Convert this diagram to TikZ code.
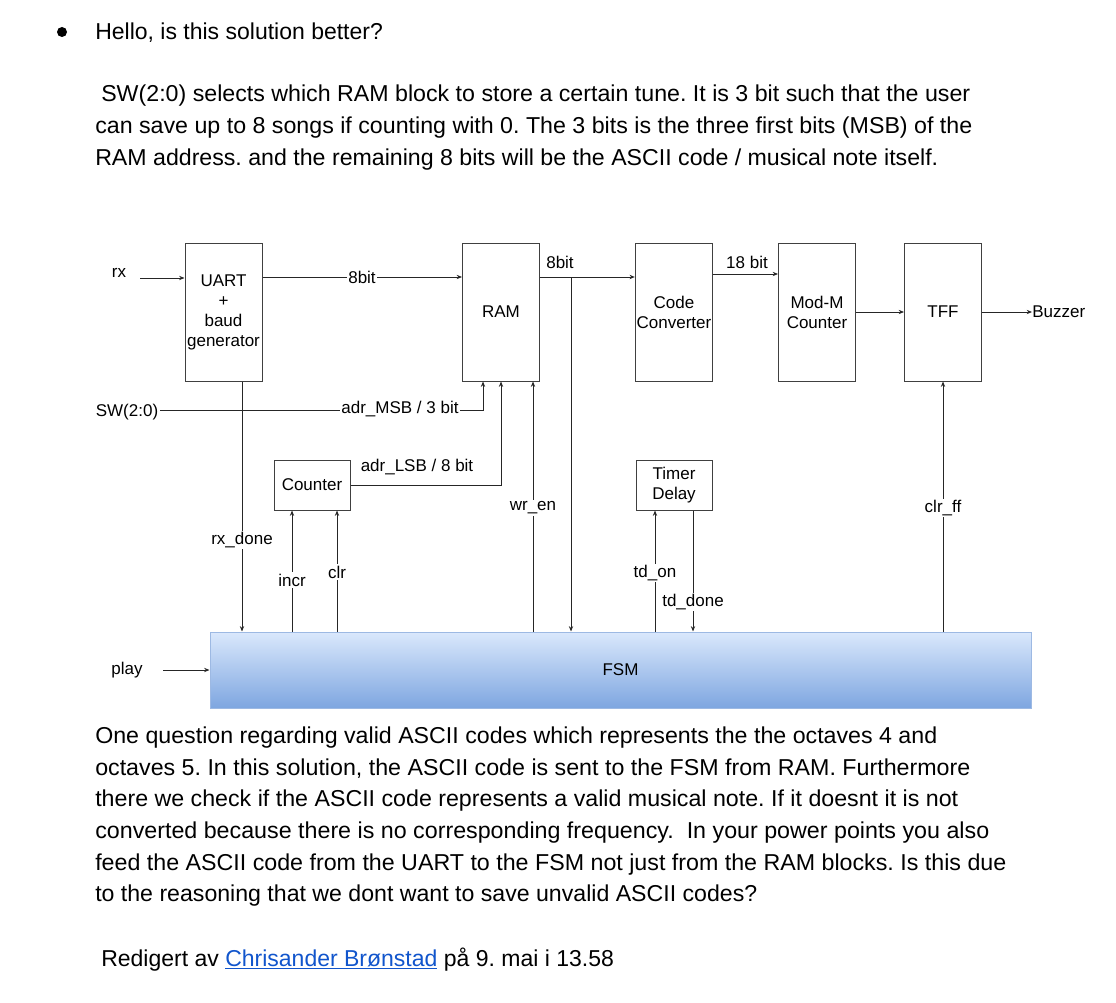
\documentclass[tikz,border=0pt]{standalone}
\usepackage{fontspec}
\setmainfont{Liberation Sans}
\usepackage{graphicx}
\usetikzlibrary{arrows.meta,calc}
\definecolor{linkblue}{HTML}{1155CC}
\definecolor{fsmtop}{HTML}{DAE8FC}
\definecolor{fsmbot}{HTML}{7EA6E0}
\definecolor{fsmedge}{HTML}{9DB9E3}
\newcommand{\bodyfont}{\fontsize{17.25pt}{24pt}\selectfont}
\newcommand{\diagfont}{\fontsize{12.75pt}{15pt}\selectfont}
\newcommand{\fitline}[2]{\resizebox{#1}{\height}{#2}}
\frenchspacing
\begin{document}
\begin{tikzpicture}[x=0.75pt,y=-0.75pt,
  blk/.style={draw=black!75, line width=0.75pt, minimum width=57.75pt, minimum height=103.5pt, align=center, font=\diagfont, inner sep=1pt},
  sblk/.style={blk, minimum width=57pt, minimum height=37.5pt},
  wire/.style={draw=black!85, line width=0.7pt},
  arr/.style={wire, -{Stealth[length=4pt,width=3.2pt]}},
  lbl/.style={font=\diagfont, inner sep=1pt},
  onl/.style={lbl, fill=white},
  body/.style={font=\bodyfont, inner sep=0pt, anchor=base west},
]
\useasboundingbox (0,0) rectangle (1116,1002);

% ---- text above
\node[circle, fill=black, inner sep=0pt, minimum size=7.5pt] (bullet) at (62,32) {};
\node[body] (hello) at (95,40) {Hello, is this solution better?};
\node[body] (p1) at (101,102) {\fitline{651.75pt}{SW(2:0) selects which RAM block to store a certain tune. It is 3 bit such that the user}};
\node[body] (p2) at (95,134) {\fitline{657.75pt}{can save up to 8 songs if counting with 0. The 3 bits is the three first bits (MSB) of the}};
\node[body] (p3) at (95,166) {\fitline{632.25pt}{RAM address. and the remaining 8 bits will be the ASCII code / musical note itself.}};

% ---- blocks
\node[blk] (uart) at (223.5,312) {UART\\+\\baud\\generator};
\node[blk] (ram) at (501,312) {RAM};
\node[blk] (conv) at (674,312) {Code\\Converter};
\node[blk] (modm) at (817,312) {Mod-M\\Counter};
\node[blk] (tff) at (943,312) {TFF};
\node[sblk] (cnt) at (312,485) {Counter};
\node[sblk] (timer) at (674,485) {Timer\\Delay};
\node[draw=fsmedge, line width=0.75pt, top color=fsmtop, bottom color=fsmbot, minimum width=615.75pt, minimum height=57pt, font=\diagfont] (fsm) at (620.5,670) {FSM};

% ---- outside labels
\node[lbl] (rx) at (119,273) {rx};
\node[lbl] (sw) at (127,412) {SW(2:0)};
\node[lbl] (play) at (127,670) {play};
\node[lbl, anchor=west, inner sep=0pt] (buzzer) at (1032,312) {Buzzer};

% ---- coordinates
\coordinate (rxs) at (140,278);
\coordinate (r8) at (0,277);
\coordinate (r18) at (0,274);
\coordinate (br) at (571,277);
\coordinate (msb) at (483,410);
\coordinate (lsb) at (501,485);
\coordinate (wr) at (533,0);
\coordinate (rxd) at (242,0);
\coordinate (inc) at (292,0);
\coordinate (cl) at (337,0);
\coordinate (tdo) at (655,0);
\coordinate (tdd) at (693,0);
\coordinate (cff) at (943,0);
\coordinate (ps) at (163,670);

% ---- connectors
\draw[arr] (rxs) -- (rxs -| uart.west);
\draw[arr] (uart.east |- r8) -- (ram.west |- r8);
\draw[arr] (ram.east |- r8) -- (conv.west |- r8);
\draw[arr] (br) -- (br |- fsm.north);
\draw[arr] (conv.east |- r18) -- (modm.west |- r18);
\draw[arr] (modm.east) -- (tff.west);
\draw[arr] (tff.east) -- (buzzer.west);
\draw[arr] (sw.east |- msb) -- (msb) -- (msb |- ram.south);
\draw[arr] (cnt.east |- lsb) -- (lsb) -- (lsb |- ram.south);
\draw[arr] (wr |- fsm.north) -- (wr |- ram.south);
\draw[arr] (rxd |- uart.south) -- (rxd |- fsm.north);
\draw[arr] (inc |- fsm.north) -- (inc |- cnt.south);
\draw[arr] (cl |- fsm.north) -- (cl |- cnt.south);
\draw[arr] (tdo |- fsm.north) -- (tdo |- timer.south);
\draw[arr] (tdd |- timer.south) -- (tdd |- fsm.north);
\draw[arr] (cff |- fsm.north) -- (cff |- tff.south);
\draw[arr] (ps) -- (fsm.west);

% ---- connector labels
\node[onl] (l8a) at (362,277) {8bit};
\node[lbl] (l8b) at (560,262) {8bit};
\node[lbl] (l18) at (747,262) {18 bit};
\node[onl] (lmsb) at (400,409) {adr\_MSB / 3 bit};
\node[lbl] (llsb) at (417,467) {adr\_LSB / 8 bit};
\node[onl] (lwr) at (533,508) {wr\_en};
\node[onl] (lrxd) at (242,540) {rx\_done};
\node[onl] (linc) at (292,580) {incr};
\node[onl] (lclr) at (337,572) {clr};
\node[onl] (ltdo) at (655,573) {td\_on};
\node[onl] (ltdd) at (693,602) {td\_done};
\node[onl] (lcff) at (943,508) {clr\_ff};

% ---- text below
\node[body] (b1) at (95,743) {\fitline{631.5pt}{One question regarding valid ASCII codes which represents the the octaves 4 and}};
\node[body] (b2) at (95,775) {\fitline{656.25pt}{octaves 5. In this solution, the ASCII code is sent to the FSM from RAM. Furthermore}};
\node[body] (b3) at (95,806) {\fitline{647.25pt}{there we check if the ASCII code represents a valid musical note. If it doesnt it is not}};
\node[body] (b4) at (95,838) {\fitline{670.5pt}{converted because there is no corresponding frequency.\ \ In your power points you also}};
\node[body] (b5) at (95,870) {\fitline{683.25pt}{feed the ASCII code from the UART to the FSM not just from the RAM blocks. Is this due}};
\node[body] (b6) at (95,901) {\fitline{496.5pt}{to the reasoning that we dont want to save unvalid ASCII codes?}};
\node[body] (edit) at (101,966) {Redigert av \textcolor{linkblue}{\underline{Chrisander Brønstad}} på 9. mai i 13.58};
\end{tikzpicture}
\end{document}
